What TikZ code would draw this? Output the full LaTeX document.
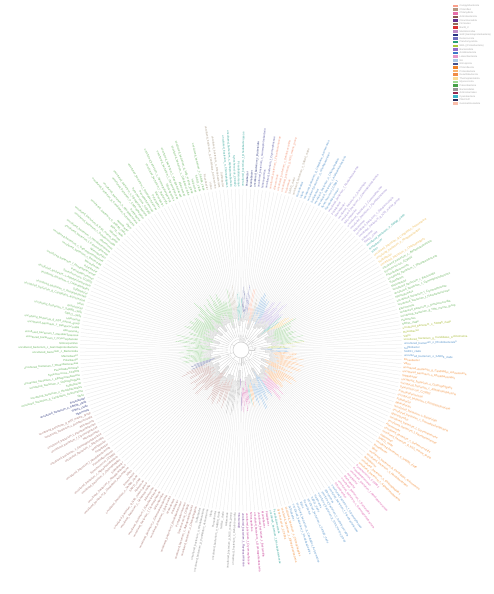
\documentclass[tikz,border=0pt]{standalone}
\usepackage{fontspec}
\setsansfont{Liberation Sans}
\definecolor{cgreen}{RGB}{110,185,100}
\definecolor{corange}{RGB}{245,150,70}
\definecolor{cbrown}{RGB}{170,120,115}
\definecolor{cblue}{RGB}{90,150,205}
\definecolor{cpink}{RGB}{225,100,175}
\definecolor{clav}{RGB}{160,140,210}
\definecolor{csalmon}{RGB}{245,150,120}
\definecolor{cnavy}{RGB}{50,60,130}
\definecolor{cslate}{RGB}{100,100,170}
\definecolor{cteal}{RGB}{60,170,160}
\definecolor{ctan}{RGB}{175,160,140}
\definecolor{colive}{RGB}{170,190,60}
\definecolor{cyellow}{RGB}{240,190,90}
\definecolor{cgrey}{RGB}{140,140,140}
\definecolor{cpurple}{RGB}{110,60,150}
\definecolor{cmagenta}{RGB}{200,60,150}
% legend colours
\definecolor{l1}{RGB}{250,160,140}
\definecolor{l2}{RGB}{180,150,130}
\definecolor{l3}{RGB}{230,110,170}
\definecolor{l4}{RGB}{140,90,80}
\definecolor{l5}{RGB}{100,50,140}
\definecolor{l6}{RGB}{150,110,90}
\definecolor{l7}{RGB}{220,50,50}
\definecolor{l8}{RGB}{190,140,200}
\definecolor{l9}{RGB}{40,50,130}
\definecolor{l10}{RGB}{110,110,190}
\definecolor{l11}{RGB}{40,160,120}
\definecolor{l12}{RGB}{170,200,60}
\definecolor{l13}{RGB}{150,110,200}
\definecolor{l14}{RGB}{60,120,200}
\definecolor{l15}{RGB}{230,150,200}
\definecolor{l16}{RGB}{170,200,230}
\definecolor{l17}{RGB}{70,80,140}
\definecolor{l18}{RGB}{240,130,40}
\definecolor{l19}{RGB}{250,180,110}
\definecolor{l20}{RGB}{240,140,70}
\definecolor{l21}{RGB}{250,220,150}
\definecolor{l22}{RGB}{160,220,150}
\definecolor{l23}{RGB}{70,160,70}
\definecolor{l24}{RGB}{150,150,150}
\definecolor{l25}{RGB}{150,40,80}
\definecolor{l26}{RGB}{60,180,200}
\definecolor{l27}{RGB}{40,40,90}
\definecolor{l28}{RGB}{250,190,170}
\newcommand\pickclade[1]{%
 \def\cc{cblue}%
 \ifdim#1pt<357pt\def\cc{corange}\fi
 \ifdim#1pt<315pt\def\cc{cpink}\fi
 \ifdim#1pt<305pt\def\cc{cblue}\fi
 \ifdim#1pt<287pt\def\cc{corange}\fi
 \ifdim#1pt<283pt\def\cc{cteal}\fi
 \ifdim#1pt<280pt\def\cc{cmagenta}\fi
 \ifdim#1pt<272pt\def\cc{cpurple}\fi
 \ifdim#1pt<268pt\def\cc{cgrey}\fi
 \ifdim#1pt<255pt\def\cc{cbrown}\fi
 \ifdim#1pt<202pt\def\cc{cnavy}\fi
 \ifdim#1pt<196pt\def\cc{cgreen}\fi
 \ifdim#1pt<102pt\def\cc{ctan}\fi
 \ifdim#1pt<95pt\def\cc{cteal}\fi
 \ifdim#1pt<89pt\def\cc{cnavy}\fi
 \ifdim#1pt<84pt\def\cc{cslate}\fi
 \ifdim#1pt<80pt\def\cc{csalmon}\fi
 \ifdim#1pt<73pt\def\cc{ctan}\fi
 \ifdim#1pt<70pt\def\cc{cblue}\fi
 \ifdim#1pt<58pt\def\cc{clav}\fi
 \ifdim#1pt<40pt\def\cc{cteal}\fi
 \ifdim#1pt<36pt\def\cc{cyellow}\fi
 \ifdim#1pt<30pt\def\cc{cgreen}\fi
 \ifdim#1pt<8pt\def\cc{colive}\fi
 \ifdim#1pt<3pt\def\cc{cblue}\fi}
\newcommand\tiplabel[1]{\ifcase#1
 uncultured\_bacterium\_c\_Gammaproteobacteria\or
 Pseudoalteromonas\or
 uncultured\_bacterium\_o\_Rhodobacterales\or
 SAR11\_clade\or
 uncultured\_bacterium\_f\_Flavobacteriaceae\or
 Marinobacter\or
 uncultured\_bacterium\_c\_Alphaproteobacteria\or
 Vibrio\or
 uncultured\_bacterium\_g\_NS5\_marine\_group\or
 Nitrosopumilus\or
 uncultured\_bacterium\_f\_Rhodobacteraceae\or
 Sulfitobacter\or
 uncultured\_bacterium\_o\_SAR86\_clade\or
 Alteromonas\or
 uncultured\_bacterium\_c\_Bacteroidia\or
 Synechococcus\_CC9902\or
 uncultured\_bacterium\_g\_Candidatus\_Actinomarina\or
 Halomonas\or
 uncultured\_bacterium\_f\_Cryomorphaceae\or
 Polaribacter\or
 uncultured\_bacterium\_o\_Chitinophagales\or
 Roseobacter\or
 uncultured\_bacterium\_c\_Dehalococcoidia\fi}
\begin{document}
\begin{tikzpicture}[x=1pt,y=1pt,
  guide/.style={draw=gray!22,line width=0.25pt},
  treeln/.style={draw=gray!35,line width=0.3pt},
  tipln/.style={line width=0.35pt},
  tiplab/.style={font=\sffamily\fontsize{2.8}{3.1}\selectfont,inner sep=0pt},
  legbox/.style={inner sep=0pt,minimum width=4.5pt,minimum height=2.6pt},
  legtext/.style={font=\sffamily\fontsize{2.4}{2.6}\selectfont,text=gray!70,inner sep=0pt,anchor=west}]
\useasboundingbox (0,0) rectangle (494,594);
\fill[white] (0,0) rectangle (494,594);
\def\dstep{1.3846154}
\begin{scope}[shift={(241,244)}]
 % central ring
 \draw[treeln,line width=0.6pt] (0,0) circle[radius=8];
 % clade arcs
 \foreach \s/\e/\r in {-3/3/13,3/8/15,8/30/12,30/36/14,36/40/16,40/58/12,58/70/13,70/73/15,73/80/12,80/84/14,84/89/13,89/95/15,95/102/14,102/196/11,196/202/14,202/255/12,255/268/14,268/272/15,272/280/13,280/283/15,283/287/14,287/305/12,305/315/13,315/357/11}{
  \pgfmathsetmacro\m{(\s+\e)/2}
  \draw[treeln] (\m:8) -- (\m:\r);
  \draw[treeln] (\s+0.7:\r) arc[start angle=\s+0.7,end angle=\e-0.7,radius=\r];
 }
 % sub-groups of five tips
 \foreach \g in {0,...,51}{
  \pgfmathsetmacro\aa{(5*\g+0.5)*\dstep}
  \pgfmathsetmacro\ab{(5*\g+4.5)*\dstep}
  \pgfmathsetmacro\am{(5*\g+2.5)*\dstep}
  \pgfmathsetmacro\rg{20+12*abs(sin(mod(\g*71,360)))}
  \draw[treeln] (\am:13) -- (\am:\rg);
  \draw[treeln] (\aa:\rg) arc[start angle=\aa,end angle=\ab,radius=\rg];
 }
 % tips, guide lines and labels
 \foreach \i in {0,...,259}{
  \pgfmathsetmacro\a{(\i+0.5)*\dstep}
  \pickclade{\a}
  \pgfmathtruncatemacro\g{\i/5}
  \pgfmathsetmacro\rg{20+12*abs(sin(mod(\g*71,360)))}
  \pgfmathsetmacro\rb{\rg+3+8*abs(sin(mod(\i*53.1,360)))}
  \pgfmathsetmacro\rt{\rb+8+16*abs(sin(mod(\i*47.3,360)))}
  \draw[treeln] (\a:\rg) -- (\a:\rb);
  \draw[tipln,draw=\cc!55] (\a:\rb) -- (\a:\rt);
  \draw[guide] (\a:\rt) -- (\a:161);
  \pgfmathtruncatemacro\k{mod(\i*37+11,23)}
  \def\anc{west}\let\rot\a
  \ifdim\a pt>90pt \ifdim\a pt<270pt \def\anc{east}\pgfmathsetmacro\rot{\a+180}\fi\fi
  \node[tiplab,text=\cc,anchor=\anc,rotate=\rot] (t\i) at (\a:163) {\tiplabel{\k}};
 }
\end{scope}
% legend
\foreach \c/\n [count=\j] in {l1/Campylobacterota,l2/Chloroflexi,l3/Chlamydiota,l4/Actinobacteriota,l5/Cloacimonadota,l6/Firmicutes,l7/Bacilli\_C,l8/Marinimicrobia,l9/SAR (Gammaproteobacteria),l10/Deinococcota,l11/Planctomycetota,l12/NB1-j (Proteobacteria),l13/Bacteroidota,l14/Acidobacteriota,l15/Latescibacterota,l16/NA,l17/Nitrospirota,l18/Chloroflexota,l19/Proteobacteria,l20/Desulfobacterota,l21/Thermoplasmatota,l22/Myxococcota,l23/Patescibacteria,l24/Bacteroidetes,l25/Actinomarinales,l26/Cyanobacteria,l27/PAUC34f,l28/Gemmatimonadota}{
  \pgfmathsetmacro\ly{594-6-(\j-1)*3.62}
  \node[legbox,fill=\c] (lb\j) at (455.5,\ly) {};
  \node[legtext] (lt\j) at (459.5,\ly) {\n};
}
\end{tikzpicture}
\end{document}
